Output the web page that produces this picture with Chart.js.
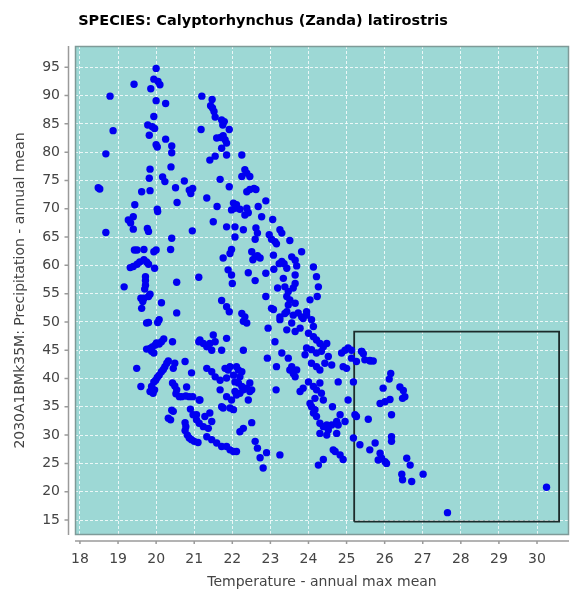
<!DOCTYPE html>
<html>
<head>
<meta charset="utf-8">
<script src="https://cdn.jsdelivr.net/npm/chart.js@4"></script>
<style>
  html, body { margin: 0; padding: 0; background: #fff; }
</style>
</head>
<body>
<canvas id="myChart" width="576" height="598"></canvas>
<script>
const chartTitle = 'SPECIES: Calyptorhynchus (Zanda) latirostris';
const xLabel = 'Temperature - annual max mean';
const yLabel = '2030A1BMk35M: Precipitation - annual mean';

const xTicks = [18, 19, 20, 21, 22, 23, 24, 25, 26, 27, 28, 29, 30];
const yTicks = [15, 20, 25, 30, 35, 40, 45, 50, 55, 60, 65, 70, 75, 80, 85, 90, 95];

// selection box drawn on the plot: [temp, precip] corners
const boxCorners = [[25.2, 14.7], [25.2, 48.3], [30.58, 48.3], [30.58, 14.7], [25.2, 14.7]];

// occurrence records: [temperature, precipitation]
const records = [
    [20.0,94.8],[19.42,92.0],[19.94,92.9],[20.05,92.5],[20.1,91.9],[19.86,91.2],[18.79,89.9],[20.0,89.1],
    [20.25,88.6],[19.94,86.3],[18.87,83.8],[19.78,84.8],[19.9,84.5],[19.96,84.2],[19.82,83.0],[20.0,81.3],
    [20.03,80.9],[20.25,82.3],[20.41,81.1],[20.41,79.9],[18.68,79.7],[20.39,77.4],[19.84,77.0],[19.82,75.4],
    [20.17,75.6],[20.23,74.8],[20.74,74.9],[20.51,73.7],[18.48,73.7],[18.52,73.5],[20.87,73.3],[20.96,73.6],
    [20.91,72.7],[19.62,73.0],[19.84,73.2],[20.55,71.1],[19.44,70.7],[20.03,69.9],[20.04,69.5],[19.27,68.0],
    [19.33,67.5],[19.4,68.6],[19.4,66.4],[19.77,66.5],[19.8,66.0],[18.68,65.8],[20.41,64.8],[20.95,66.1],
    [19.43,62.7],[19.5,62.7],[19.68,62.8],[19.94,62.4],[20.0,62.7],[20.38,62.8],[19.32,59.6],[19.4,59.8],
    [19.5,60.2],[19.57,60.6],[19.68,61.0],[19.75,60.6],[19.8,60.2],[19.96,59.5],[21.12,57.9],[19.72,58.0],
    [19.72,57.3],[19.72,56.5],[19.7,55.8],[19.16,56.2],[20.54,57.0],[19.84,54.9],[19.8,54.5],[19.68,54.2],
    [19.6,54.2],[20.14,53.4],[19.65,53.6],[19.62,52.4],
    [20.54,51.6],[19.8,49.9],[19.75,49.8],[20.08,50.4],[20.04,49.9],[20.2,47.0],[20.14,46.5],[20.08,46.1],
    [20.01,46.3],[19.97,45.9],[19.9,45.6],[19.84,45.3],[19.75,45.2],[19.88,44.8],[19.94,44.5],[20.43,46.5],
    [21.12,46.5],[19.49,41.8],[19.6,38.6],[20.32,43.1],[20.28,42.7],[20.23,42.1],[20.19,41.6],[20.14,41.2],
    [20.08,40.6],[20.03,40.2],[19.99,39.7],[19.94,39.4],[19.88,38.6],[19.84,37.7],[19.92,37.4],[19.96,38.0],
    [20.49,42.7],[20.45,41.8],[20.76,43.0],[20.93,41.0],[20.43,39.2],[20.49,38.7],[20.54,38.0],[20.52,37.3],
    [20.61,36.8],[20.67,36.8],[20.8,38.5],[20.78,36.9],[20.87,36.8],[20.96,36.8],[20.41,34.4],[20.45,34.2],
    [20.32,33.0],[20.38,32.7],[20.76,32.2],[20.78,31.5],[20.76,30.8],[20.82,30.0],[20.87,29.5],[20.93,29.2],
    [21.0,28.9],[21.1,28.7],[20.9,34.6],[20.97,33.6],[21.06,32.7],[21.13,32.1],[21.13,36.2],
    [21.2,89.9],[21.47,89.3],[21.43,88.2],[21.48,87.8],[21.52,87.2],[21.55,86.2],[21.72,85.7],[21.79,85.4],
    [21.75,84.8],[21.92,84.0],[21.18,84.0],[21.59,82.5],[21.69,82.6],[21.76,82.9],[21.81,82.2],[21.85,81.6],
    [21.72,80.7],[21.85,79.5],[21.55,79.3],[21.41,78.6],[22.25,79.5],[22.33,76.9],[22.25,75.7],[22.38,76.3],
    [22.46,75.7],[21.68,75.2],[21.92,73.9],[22.38,73.0],[22.46,73.4],[22.57,73.6],[22.62,73.4],[21.33,71.9],
    [22.88,71.4],[21.6,70.4],[22.03,71.0],[22.11,70.7],[21.98,69.8],[22.07,70.1],[22.2,69.9],[22.38,70.1],
    [22.42,69.3],[22.33,68.9],[22.68,70.4],[21.5,67.7],[22.77,68.6],[23.06,68.1],[21.85,66.8],[22.07,66.8],
    [22.29,66.3],[22.07,65.0],[22.62,66.6],[22.66,65.7],[22.6,64.6],[23.25,66.3],[23.3,65.7],[22.97,65.4],
    [23.03,64.6],[23.12,64.2],[23.16,63.8],[23.51,64.4],[21.98,62.8],[21.94,62.1],[21.76,61.3],[22.51,62.4],
    [22.6,61.5],[22.54,61.0],[22.66,61.7],[22.73,61.3],[23.08,61.8],[23.3,60.7],[23.23,60.3],[23.36,60.3],
    [23.43,59.5],[23.56,61.5],[23.65,60.9],[23.69,59.9],[23.82,62.4],[21.89,59.2],[21.98,58.3],[22.0,56.8],
    [22.42,58.7],[22.6,57.3],[22.88,58.6],[23.09,59.3],[23.34,57.7],[23.38,56.2],[23.47,55.4],[23.43,54.5],
    [23.51,53.9],[23.6,56.0],[23.65,58.3],[23.65,56.8],[23.19,56.0],[22.88,54.5],[24.13,59.7],[24.21,58.0],
    [24.26,56.2],[24.23,54.5],[24.04,53.9],[21.72,53.8],[21.85,52.7],[21.92,51.8],[22.25,51.5],[22.33,50.9],
    [23.08,52.2],[23.25,50.9],[23.43,51.8],[23.6,51.2],[23.73,51.6],[23.82,50.9],[23.95,51.2],
    [22.38,49.8],[22.29,50.1],[23.03,52.4],[22.94,48.9],[23.25,50.4],[23.38,51.5],[23.47,53.0],[23.65,53.3],
    [23.56,49.8],[23.43,48.6],[23.65,48.3],[23.78,48.9],[23.86,50.6],[23.95,51.8],[24.08,50.4],[24.13,49.2],
    [24.0,48.0],[24.13,47.4],[24.21,46.8],[24.3,46.2],[24.39,45.6],[24.48,46.2],[24.34,44.8],[24.21,44.5],
    [24.08,45.1],[23.95,45.4],[23.91,44.2],[24.08,42.7],[24.21,42.1],[24.3,41.5],[24.43,42.7],[24.52,43.9],
    [23.12,46.5],[23.3,44.5],[23.16,42.1],[22.92,43.6],[23.47,43.6],[23.51,41.5],[23.6,40.9],[23.65,40.3],
    [23.56,42.1],[23.69,41.5],[23.15,38.0],[23.78,37.7],[23.86,38.3],[24.0,39.4],[24.13,38.6],[24.21,38.0],
    [24.17,36.5],[24.04,35.6],[24.08,35.0],[24.13,33.9],[24.21,33.3],[24.17,34.5],[24.3,39.2],[24.34,37.4],
    [24.39,36.2],[24.3,32.1],[24.39,31.5],[24.48,31.8],[24.52,30.9],[24.3,30.3],[24.48,30.0],[24.74,30.3],
    [24.61,31.8],[24.74,32.4],[24.63,35.0],[24.83,33.6],[24.78,31.8],[24.96,32.4],[24.78,39.4],[24.61,42.4],
    [24.87,44.5],[24.96,45.0],[25.04,45.4],[25.13,45.0],[24.91,42.1],[25.0,41.8],[25.04,36.2],[25.13,43.6],
    [25.26,43.0],[25.39,44.8],[25.48,43.3],[25.61,43.2],[25.18,39.4],[25.22,33.6],[25.26,33.3],[25.18,29.5],
    [25.35,28.3],[25.57,32.8],[25.75,28.6],[25.61,27.4],[25.83,25.6],[24.65,27.4],[24.7,27.1],[24.83,26.5],
    [24.91,25.7],[24.39,25.7],[24.26,24.7],[22.6,28.9],[22.66,27.7],[22.73,26.0],[22.81,24.2],[22.9,26.9],
    [23.25,26.5],[22.29,31.2],[22.2,30.6],[22.51,32.2],[22.46,39.2],[22.51,38.0],[22.42,36.2],[22.11,42.1],
    [22.16,41.5],[22.25,41.2],[22.2,40.3],[22.03,40.6],[22.07,39.4],[22.16,39.2],[22.25,38.6],[22.29,38.0],
    [22.38,38.3],[22.46,37.7],[22.07,37.7],[22.2,37.4],[22.11,37.1],[21.98,36.2],[21.85,36.8],[21.94,34.8],
    [22.03,34.5],[21.72,35.0],[21.68,38.0],[21.85,40.1],[21.81,41.8],[21.15,46.8],[21.24,46.2],[21.33,45.6],
    [21.46,45.0],[21.41,46.2],[21.5,47.7],[21.55,46.5],[21.72,45.0],[21.85,47.1],[21.33,41.8],[21.46,41.2],
    [21.55,40.3],[21.68,39.7],[21.15,36.2],[21.06,33.6],[21.28,33.3],[21.41,33.9],[21.46,32.4],[21.37,31.2],
    [21.24,31.5],[21.33,29.7],[21.46,29.2],[21.59,28.6],[21.72,28.0],[21.85,28.0],[21.94,27.4],[22.03,27.1],
    [22.11,27.1],[21.76,34.8],[22.29,45.0],[21.94,42.1],[21.89,41.5],
    [25.4,44.8],[25.44,44.4],[25.62,43.1],[25.7,43.1],[26.16,40.9],[26.12,39.9],[25.96,38.3],[26.4,38.5],
    [26.49,37.9],[26.53,36.8],[26.47,36.5],[25.88,35.6],[26.01,35.9],[26.14,36.3],[26.18,33.6],[26.18,29.7],
    [26.18,28.9],[25.88,26.8],[25.92,25.9],[26.01,25.3],[26.05,25.0],[26.58,25.9],[26.67,24.7],[26.45,23.1],
    [26.47,22.1],[26.71,21.8],[27.01,23.1],[27.65,16.3],[30.25,20.8]
];

const ctx = document.getElementById('myChart').getContext('2d');
const labelFont = { family: 'DejaVu Sans', size: 14 };

// teal plot background, frame, offset axis lines and the title
const plotDecor = {
    id: 'plotDecor',
    beforeDraw(chart) {
        const { ctx, chartArea: a } = chart;
        ctx.save();
        ctx.fillStyle = '#9dd8d5';
        ctx.fillRect(a.left, a.top, a.width, a.height);
        ctx.restore();
    },
    afterDraw(chart) {
        const { ctx, chartArea: a, scales } = chart;
        ctx.save();
        ctx.strokeStyle = '#7f9a98';
        ctx.lineWidth = 1.5;
        ctx.strokeRect(a.left + 0.5, a.top + 0.5, a.width - 1, a.height - 1);

        ctx.strokeStyle = '#9a9a9a';
        ctx.lineWidth = 1.5;
        const ax = a.left - 6.5;
        const ay = a.bottom + 6;
        ctx.beginPath();
        ctx.moveTo(ax, a.top);
        ctx.lineTo(ax, a.bottom);
        ctx.moveTo(a.left, ay);
        ctx.lineTo(a.right, ay);
        yTicks.forEach(v => {
            const py = scales.y.getPixelForValue(v);
            ctx.moveTo(ax - 4, py);
            ctx.lineTo(ax, py);
        });
        xTicks.forEach(v => {
            const px = scales.x.getPixelForValue(v);
            ctx.moveTo(px, ay);
            ctx.lineTo(px, ay + 3);
        });
        ctx.stroke();

        ctx.fillStyle = '#000';
        ctx.font = 'bold 14.5px "DejaVu Sans"';
        ctx.textAlign = 'center';
        ctx.textBaseline = 'middle';
        ctx.fillText(chartTitle, 263, 21);
        ctx.restore();
    }
};

new Chart(ctx, {
    type: 'scatter',
    data: {
        datasets: [{
            label: 'box',
            data: boxCorners.map(p => ({ x: p[0], y: p[1] })),
            showLine: true,
            borderColor: '#1c2b2b',
            borderWidth: 1.8,
            pointRadius: 0,
            fill: false,
            order: 2
        }, {
            label: 'records',
            data: records.map(p => ({ x: p[0], y: p[1] })),
            backgroundColor: '#0000f0',
            borderWidth: 0,
            pointRadius: 3.7,
            pointHoverRadius: 3.7,
            order: 1
        }]
    },
    options: {
        responsive: false,
        animation: false,
        events: [],
        layout: { padding: { top: 46, right: 7, left: 0, bottom: 0 } },
        plugins: {
            legend: { display: false },
            title: { display: false },
            tooltip: { enabled: false }
        },
        scales: {
            x: {
                type: 'linear',
                min: 17.87,
                max: 30.84,
                afterBuildTicks: s => { s.ticks = xTicks.map(v => ({ value: v })); },
                afterFit: s => { s.height = 63; },
                grid: { color: 'rgba(255,255,255,0.8)', lineWidth: 1, drawTicks: false },
                border: { display: false, dash: [3, 2] },
                ticks: { padding: 16, color: '#444', font: labelFont, maxRotation: 0, autoSkip: false },
                title: { display: true, text: xLabel, color: '#444', font: labelFont, padding: { top: 0, bottom: 7 } }
            },
            y: {
                type: 'linear',
                min: 12.35,
                max: 98.76,
                afterBuildTicks: s => { s.ticks = yTicks.map(v => ({ value: v })); },
                afterFit: s => { s.width = 75; },
                grid: { color: 'rgba(255,255,255,0.8)', lineWidth: 1, drawTicks: false },
                border: { display: false, dash: [3, 2] },
                ticks: { padding: 15, color: '#444', font: labelFont, autoSkip: false },
                title: { display: true, text: yLabel, color: '#444', font: labelFont, padding: { top: 12, bottom: 0 } }
            }
        }
    },
    plugins: [plotDecor]
});
</script>
</body>
</html>
